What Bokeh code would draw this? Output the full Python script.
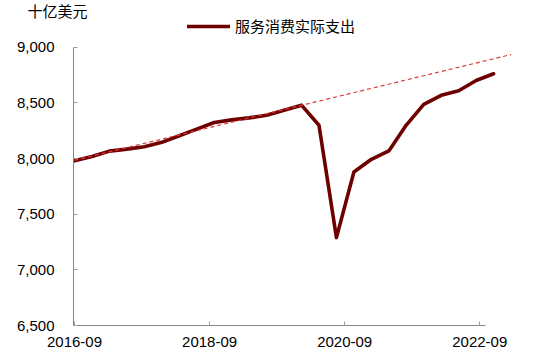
from bokeh.plotting import figure
from bokeh.models import (Range1d, FixedTicker, NumeralTickFormatter, Legend,
                          LegendItem, ColumnDataSource)
from bokeh.embed import file_html
from bokeh.resources import INLINE

# ---------------- data ----------------
quarters = ["2016-09", "2016-12", "2017-03", "2017-06", "2017-09", "2017-12",
            "2018-03", "2018-06", "2018-09", "2018-12", "2019-03", "2019-06",
            "2019-09", "2019-12", "2020-03", "2020-06", "2020-09", "2020-12",
            "2021-03", "2021-06", "2021-09", "2021-12", "2022-03", "2022-06",
            "2022-09"]
services_real = [7980, 8018, 8067, 8085, 8107, 8146, 8205, 8265, 8324, 8348,
                 8366, 8390, 8435, 8480, 8300, 7290, 7880, 7994, 8069, 8301,
                 8488, 8569, 8610, 8702, 8762]
trend_quarters = ["2016-09", "2022-12"]
trend_values = [7985, 8935]
tick_labels = ["2016-09", "2018-09", "2020-09", "2022-09"]
y_ticks = [6500, 7000, 7500, 8000, 8500, 9000]
series_name = "服务消费实际支出"
unit_text = "十亿美元"


def qidx(label):
    y, m = label.split("-")
    return (int(y) - 2016) * 4 + (int(m) - 9) // 3


src = ColumnDataSource(dict(x=[qidx(q) for q in quarters], y=services_real))
trend_src = ColumnDataSource(dict(x=[qidx(q) for q in trend_quarters], y=trend_values))

TOP = 17
p = figure(width=530, height=358, output_backend="svg", toolbar_location=None,
           x_range=Range1d(-0.057, 25.54),
           y_range=Range1d(6500, 9000 + (45 - TOP) * 500 / 56),
           min_border_left=73, min_border_right=10, min_border_top=TOP,
           min_border_bottom=33)
p.outline_line_color = None
p.xgrid.visible = False
p.ygrid.visible = False
p.background_fill_color = "white"

p.title.text = unit_text
p.title.align = "left"
p.title.offset = -46
p.title.standoff = 0
p.title.text_font = "'Liberation Sans', 'Noto Sans CJK SC'"
p.title.text_font_size = "15px"
p.title.text_font_style = "normal"
p.title.text_color = "black"

main = p.line("x", "y", source=src, line_color="#6E0000", line_width=3.6,
              line_join="round", line_cap="round")
p.line("x", "y", source=trend_src, line_color="#DC3B3B", line_width=1.2,
       line_dash="4 3")

# axes
tick_scale = 0.967
p.xaxis.ticker = FixedTicker(ticks=[qidx(t) * tick_scale for t in tick_labels])
p.xaxis.major_label_overrides = {qidx(t) * tick_scale: t for t in tick_labels}
p.xaxis.bounds = (-0.057, 23.54)
p.yaxis.ticker = FixedTicker(ticks=y_ticks)
p.yaxis.formatter = NumeralTickFormatter(format="0,0")
p.yaxis.bounds = (6500, 9000)

for ax in (p.xaxis[0], p.yaxis[0]):
    ax.axis_line_color = "#868686"
    ax.axis_line_width = 1
    ax.major_tick_line_color = "#A0A0A0"
    ax.major_tick_in = 4
    ax.major_tick_out = 0
    ax.minor_tick_line_color = None
    ax.major_label_text_font = "Liberation Sans"
    ax.major_label_text_font_size = "15px"
    ax.major_label_text_color = "black"
p.yaxis.major_label_standoff = 19
p.xaxis.major_label_standoff = 11

legend = Legend(items=[LegendItem(label=series_name, renderers=[main])],
                location=(114, 289), orientation="horizontal",
                glyph_width=43, glyph_height=18, label_height=18,
                label_standoff=5, padding=0, margin=0, spacing=0,
                border_line_color=None, background_fill_alpha=0,
                label_text_font="'Liberation Sans', 'Noto Sans CJK SC'",
                label_text_font_size="15px", label_text_color="black")
p.add_layout(legend)

open("out.html", "w").write(file_html(p, INLINE))
